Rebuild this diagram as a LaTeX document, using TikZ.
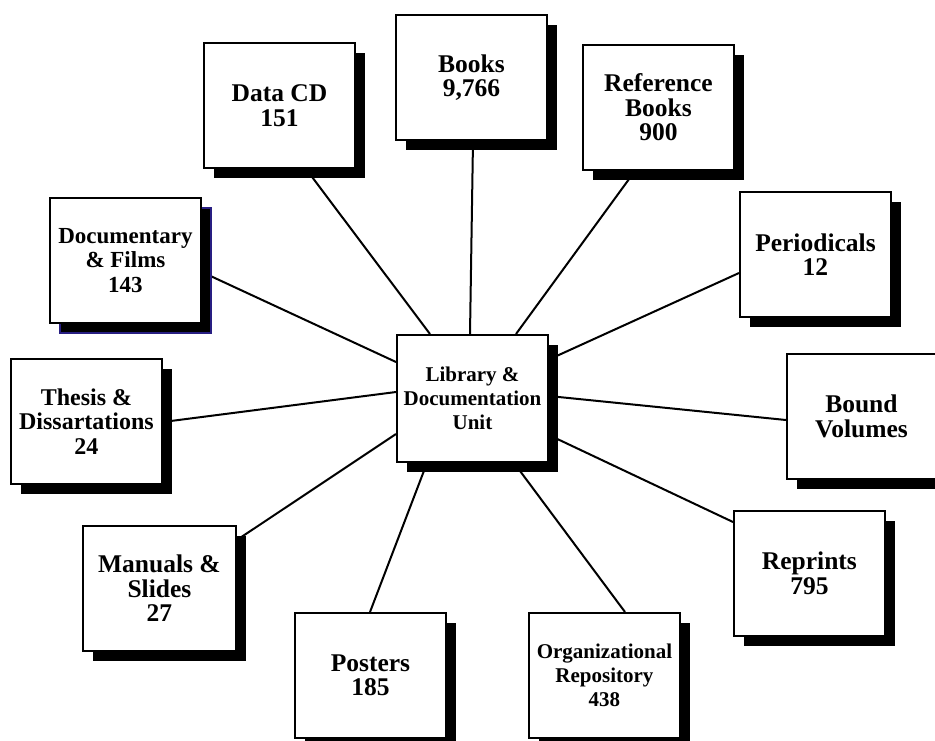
\documentclass[tikz,border=0pt]{standalone}
\usepackage{fontspec}
\setmainfont{Liberation Serif}
\usetikzlibrary{shadows,backgrounds,calc}
\definecolor{shblue}{RGB}{40,30,130}
\begin{document}
\begin{tikzpicture}[x=1pt,y=1pt,
  boxbase/.style={draw, line width=1.9pt, fill=white, anchor=north west,
    minimum width=151pt, minimum height=125pt, align=center, inner sep=0pt,
    font=\bfseries\fontsize{25.5}{24.5}\selectfont},
  box/.style={boxbase, drop shadow={shadow xshift=10pt, shadow yshift=-10pt, fill=black, opacity=1}},
  link/.style={line width=2pt}]
\useasboundingbox (0,0) rectangle (935,-740);
\node[box] (cd) at (203,-42) {Data CD\\151};
\node[box] (bk) at (395,-14) {Books\\9,766};
\node[box] (rb) at (582,-44) {Reference\\Books\\900};
\node[box] (pe) at (739,-191) {Periodicals\\12};
\node[box, minimum width=149pt] (bv) at (786,-353) {Bound\\Volumes};
\node[box] (rp) at (733,-510) {Reprints\\795};
\node[box, font=\bfseries\fontsize{21}{24}\selectfont] (or) at (528,-612) {Organizational\\Repository\\438};
\node[box] (po) at (294,-612) {Posters\\185};
\node[box, minimum width=153pt] (ma) at (82,-525) {Manuals \&\\Slides\\27};
\node[box, font=\bfseries\fontsize{24}{24.5}\selectfont] (th) at (10,-358) {Thesis \&\\Dissartations\\24};
\node[boxbase, font=\bfseries\fontsize{23}{24.5}\selectfont,
  drop shadow={shadow xshift=10pt, shadow yshift=-10pt, fill=black, opacity=1, draw=shblue, line width=1.2pt}]
  (df) at (49,-197) {Documentary\\\& Films\\143};
\node[box, minimum height=127pt, font=\bfseries\fontsize{21}{24}\selectfont] (c) at (396,-334) {Library \&\\Documentation\\Unit};
\begin{scope}[on background layer]
\fill[white] (0,0) rectangle (935,-740);
\draw[link] ($(cd.south west)+(103,0)$) -- ($(c.north west)+(34,0)$);
\draw[link] ($(bk.south west)+(78,0)$) -- ($(c.north west)+(74,0)$);
\draw[link] ($(rb.south west)+(53,0)$) -- ($(c.north west)+(120,0)$);
\draw[link] ($(pe.north west)+(0,-82)$) -- ($(c.north east)+(0,-25.5)$);
\draw[link] ($(bv.north west)+(0,-67)$) -- ($(c.north east)+(0,-62)$);
\draw[link] ($(rp.north west)+(0,-12)$) -- ($(c.north east)+(0,-101)$);
\draw[link] ($(or.north west)+(97,0)$) -- ($(c.south west)+(118,0)$);
\draw[link] ($(po.north west)+(76,0)$) -- ($(c.south west)+(31,0)$);
\draw[link] ($(ma.north east)+(0,-15)$) -- ($(c.north west)+(0,-100)$);
\draw[link] ($(th.north east)+(0,-64)$) -- ($(c.north west)+(0,-58)$);
\draw[link] ($(df.north east)+(0,-75)$) -- ($(c.north west)+(0,-28)$);
\end{scope}
\end{tikzpicture}
\end{document}
